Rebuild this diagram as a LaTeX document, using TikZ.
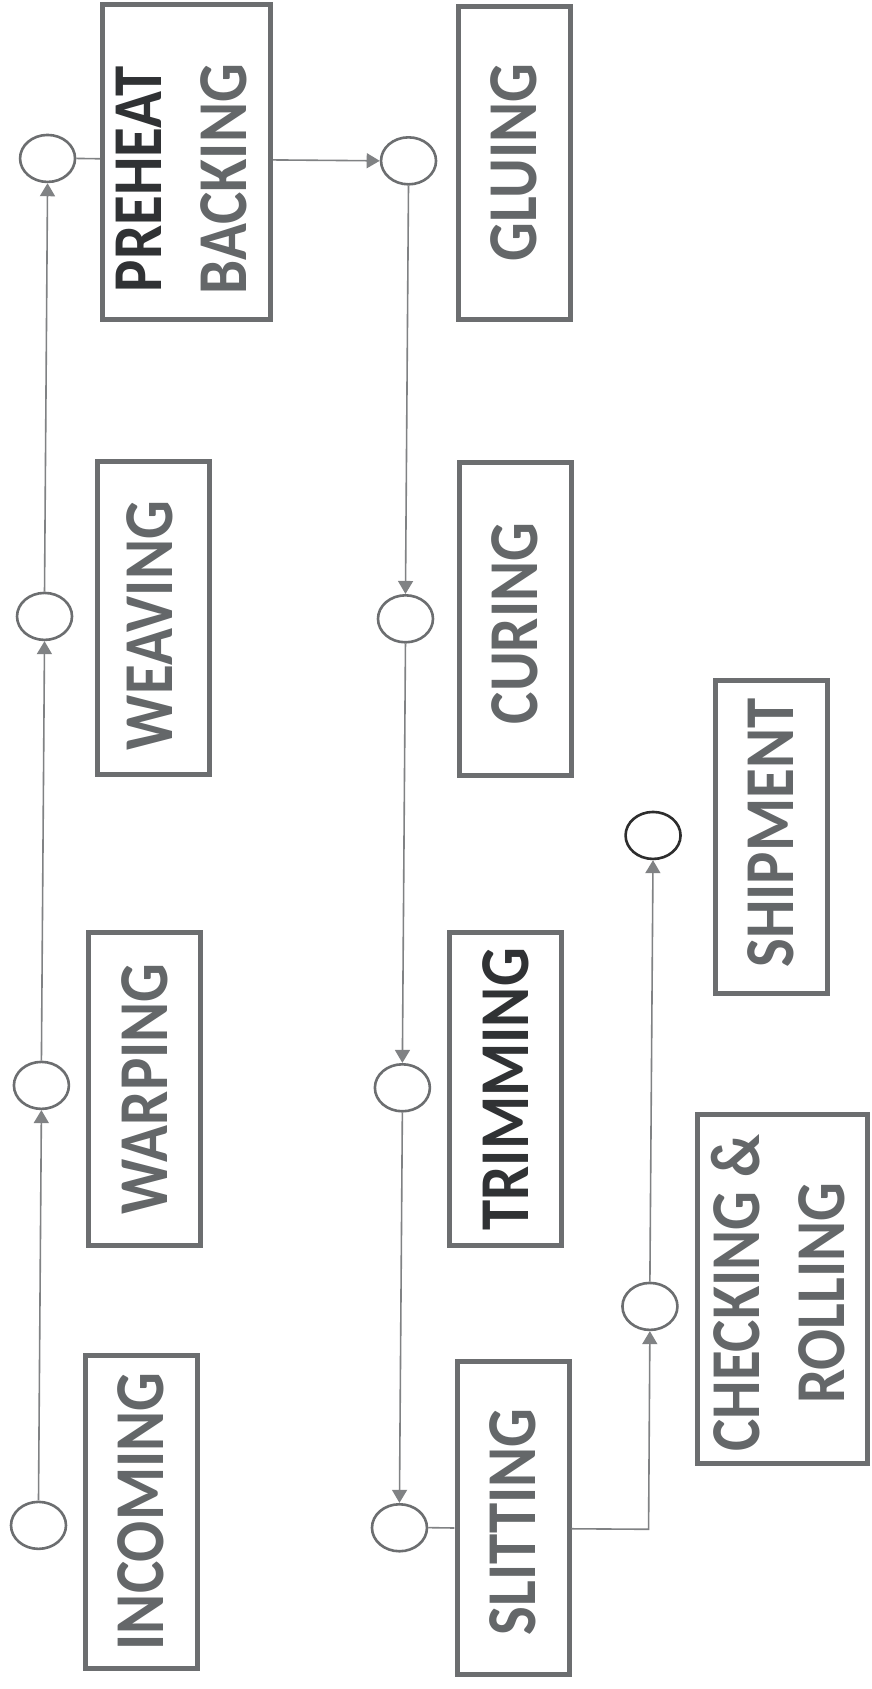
\documentclass[tikz,border=0pt]{standalone}
\usepackage{fontspec}
\newfontfamily\boxfont{Carlito}[FakeStretch=0.87]
\usetikzlibrary{arrows.meta,shapes.geometric}
\definecolor{boxgray}{RGB}{108,110,112}
\definecolor{linegray}{RGB}{128,130,132}
\definecolor{textgray}{RGB}{100,103,105}
\definecolor{darktext}{RGB}{48,50,52}
\definecolor{darkring}{RGB}{45,45,45}
\begin{document}
\begin{tikzpicture}[x=1pt,y=-1pt,
  stepbox/.style={draw=boxgray,line width=5pt,rectangle,inner sep=0pt,
    minimum width=112pt,minimum height=313pt},
  widebox/.style={stepbox,minimum width=168pt},
  stn/.style={draw=boxgray,line width=2.6pt,ellipse,inner sep=0pt,
    minimum width=55pt,minimum height=47pt},
  lbl/.style={rotate=90,text=textgray,align=center,inner sep=0pt,
    font=\boxfont\bfseries\fontsize{70}{85}\selectfont},
  flow/.style={draw=linegray,line width=1.6pt,-{Triangle[length=13pt,width=15pt]}},
  link/.style={draw=linegray,line width=1.6pt}]
\useasboundingbox (0,0) rectangle (872,1689);
\fill[white] (0,0) rectangle (872,1689);
\begin{scope}[rotate around={-0.38:(436,845)}]
  % process boxes
  \node[stepbox] (incoming) at (145.5,1513.5) {};
  \node[stepbox] (warping)  at (146,1091) {};
  \node[stepbox] (weaving)  at (151.5,619.5) {};
  \node[widebox,minimum height=315pt] (preheat) at (182,164) {};
  \node[stepbox] (gluing)   at (509.5,162) {};
  \node[stepbox] (curing)   at (513.5,618) {};
  \node[stepbox] (trimming) at (507,1089) {};
  \node[stepbox] (slitting) at (517.5,1517.5) {};
  \node[stepbox] (shipment) at (771,835) {};
  \node[widebox,minimum width=170pt,minimum height=349pt] (checking) at (785.5,1287) {};
  % box labels
  \node[lbl] (tincoming) at (incoming.center) {INCOMING};
  \node[lbl] (twarping)  at (warping.center) {WARPING};
  \node[lbl] (tweaving)  at ([shift={(-3,8)}]weaving.center) {WEAVING};
  \node[lbl] (tpreheat)  at ([shift={(-5,17)}]preheat.center)
    {\textcolor{darktext}{PREHEAT}\\BACKING};
  \node[lbl] (tgluing)   at (gluing.center) {GLUING};
  \node[lbl] (tcuring)   at ([shift={(0,5)}]curing.center) {CURING};
  \node[lbl,text=darktext] (ttrimming) at (trimming.center) {TRIMMING};
  \node[lbl] (tslitting) at ([shift={(0,4)}]slitting.center) {SLITTING};
  \node[lbl] (tshipment) at ([shift={(0,-4)}]shipment.center) {SHIPMENT};
  \node[lbl] (tchecking) at ([shift={(-4,4)}]checking.center) {CHECKING \&\\ROLLING};
  % inventory rings
  \node[stn] (c1) at (43,1528) {};
  \node[stn] (c2) at (43,1088) {};
  \node[stn] (c3) at (43,619) {};
  \node[stn] (c4) at (43,161) {};
  \node[stn] (c5) at (404,161) {};
  \node[stn] (c6) at (404,619) {};
  \node[stn] (c7) at (404,1088) {};
  \node[stn] (c8) at (404,1528) {};
  \node[stn] (c9) at (653,1305) {};
  \node[stn,draw=darkring] (c10) at (653,834) {};
  % material flow
  \draw[flow] (c1.north) -- (c2.south);
  \draw[flow] (c2.north) -- (c3.south);
  \draw[flow] (c3.north) -- (c4.south);
  \draw[link] (c4.east) -- (c4 -| preheat.west);
  \draw[flow] (c4 -| preheat.east) -- (c5.west);
  \draw[flow] (c5.south) -- (c6.north);
  \draw[flow] (c6.south) -- (c7.north);
  \draw[flow] (c7.south) -- (c8.north);
  \draw[link] (c8.east) -- (c8 -| slitting.west);
  \draw[flow] (c8 -| slitting.east) -| (c9.south);
  \draw[flow] (c9.north) -- (c10.south);
\end{scope}
\end{tikzpicture}
\end{document}
